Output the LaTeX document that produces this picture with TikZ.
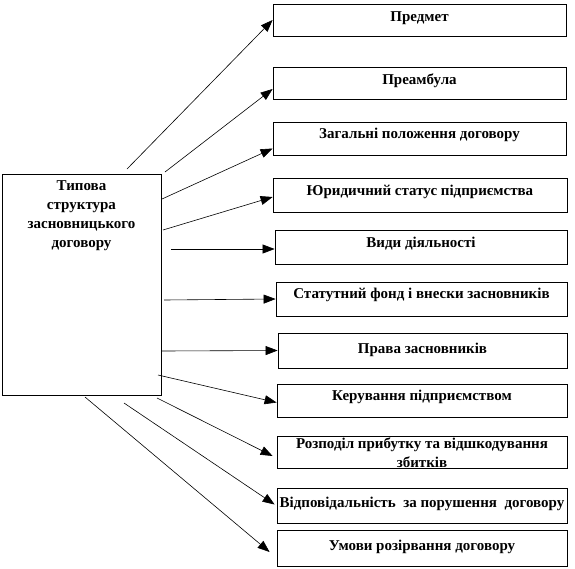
\documentclass[tikz,border=0pt]{standalone}
\usepackage{fontspec}
\setmainfont{Liberation Serif}
\usetikzlibrary{arrows.meta}
\begin{document}
\begin{tikzpicture}[x=1pt,y=-1pt,
  box/.style={draw=black,line width=0.8pt,inner sep=0pt,align=center,
    font=\bfseries\fontsize{15}{19}\selectfont},
  conn/.style={line width=0.6pt,-{Triangle[length=12pt,width=9pt]}}]
\useasboundingbox (0,0) rectangle (575,568);
% main box
\node[box,minimum width=159pt,text height=73pt,text depth=148pt] (m) at (81.5,284.5)
  {Типова\\структура\\засновницького\\договору};
% right boxes
\node[box,minimum width=293pt,text height=17pt,text depth=15pt] (b1) at (419.5,20) {Предмет};
\node[box,minimum width=293pt,text height=17pt,text depth=15pt] (b2) at (419.5,83) {Преамбула};
\node[box,minimum width=293pt,text height=16pt,text depth=17pt] (b3) at (419.5,138.5) {Загальні положення договору};
\node[box,minimum width=294pt,text height=17pt,text depth=17pt] (b4) at (420,195) {Юридичний статус підприємства};
\node[box,minimum width=292pt,text height=17pt,text depth=17pt] (b5) at (421,247) {Види діяльності};
\node[box,minimum width=291pt,text height=16pt,text depth=18pt] (b6) at (421.5,299) {Статутний фонд і внески засновників};
\node[box,minimum width=289pt,text height=20pt,text depth=15pt] (b7) at (422.5,350.5) {Права засновників};
\node[box,minimum width=290pt,text height=16pt,text depth=17pt] (b8) at (422,400.5) {Керування підприємством};
\node[box,minimum width=290pt,text height=31pt,text depth=1pt] (b9) at (422,452) {Розподіл прибутку та відшкодування\\збитків};
\node[box,minimum width=290pt,text height=19pt,text depth=16pt] (b10) at (422,505.5) {Відповідальність\ \ за порушення\ \ договору};
\node[box,minimum width=290pt,text height=20pt,text depth=16pt] (b11) at (422,548) {Умови розірвання договору};
% start points
\coordinate (s1) at (127,169);
\coordinate (s2) at (165,172);
\coordinate (s3) at (162,199);
\coordinate (s4) at (163,230);
\coordinate (s5) at (171,249);
\coordinate (s6) at (164,300);
\coordinate (s7) at (162,351);
\coordinate (s8) at (158,375);
\coordinate (s9) at (157,398);
\coordinate (s10) at (124,403);
\coordinate (s11) at (85,397);
% connectors
\draw[conn] (s1) -- (b1.west);
\draw[conn] (s2) -- ([yshift=-6pt]b2.west);
\draw[conn] (s3) -- ([yshift=-10pt]b3.west);
\draw[conn] (s4) -- ([yshift=-2pt]b4.west);
\draw[conn] (s5) -- ([yshift=-2pt]b5.west);
\draw[conn] (s6) -- (b6.west);
\draw[conn] (s7) -- (b7.west);
\draw[conn] (s8) -- ([yshift=-2pt]b8.west);
\draw[conn] (s9) -- ([xshift=-4pt,yshift=-4pt]b9.west);
\draw[conn] (s10) -- ([xshift=-2pt,yshift=1pt]b10.west);
\draw[conn] (s11) -- ([xshift=-7pt,yshift=-4pt]b11.west);
\end{tikzpicture}
\end{document}
